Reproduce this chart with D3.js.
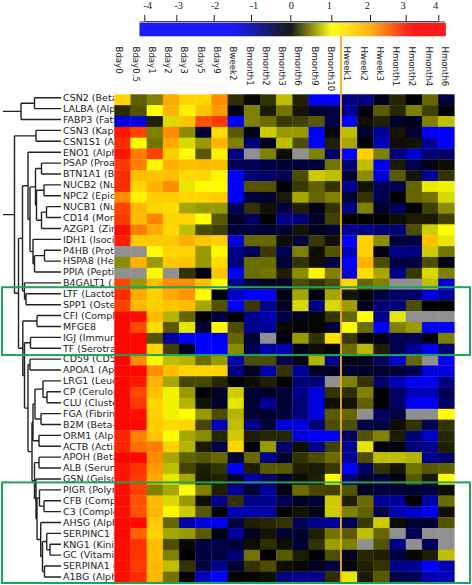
<!DOCTYPE html>
<html><head><meta charset="utf-8">
<script src="https://cdn.jsdelivr.net/npm/d3@7"></script>
<style>html,body{margin:0;padding:0;background:#fff}svg{display:block}</style>
</head><body><svg id="c" width="472" height="585"></svg>
<script>
const timepoints = ["Bday0","Bday0.5","Bday1","Bday2","Bday3","Bday5","Bday9","Bweek2","Bmonth1","Bmonth2","Bmonth3","Bmonth6","Bmonth9","Bmonth10","Hweek1","Hweek2","Hweek3","Hmonth1","Hmonth2","Hmonth4","Hmonth6"];
const proteins = ["CSN2 (Beta","LALBA (Alph","FABP3 (Fatt","CSN3 (Kapp","CSN1S1 (Al","ENO1 (Alph","PSAP (Proa","BTN1A1 (Bu","NUCB2 (Nu","NPC2 (Epidi","NUCB1 (Nu","CD14 (Mon","AZGP1 (Zin","IDH1 (Isoci","P4HB (Prot","HSPA8 (He","PPIA (Peptic","B4GALT1 (","LTF (Lactot","SPP1 (Oste","CFI (Comple","MFGE8","IGJ (Immun","TF (Serotra","CD59 (CD5","APOA1 (Apo","LRG1 (Leuc","CP (Cerulop","CLU (Cluste","FGA (Fibrin","B2M (Beta-","ORM1 (Alph","ACTB (Actin","APOH (Beta","ALB (Serum","GSN (Gelso","PIGR (Polyr","CFB (Compl","C3 (Comple","AHSG (Alph","SERPINC1 (","KNG1 (Kinin","GC (Vitamin","SERPINA1 (","A1BG (Alph"];
const expression = [
[1.5,.37,.5,2,1.5,1.5,2.2,.18,.03,.2,.75,.13,-1.5,-1.5,-.75,-.75,-.2,.15,0,.4,-.4],
[.17,.33,1,1.9,1.15,1.7,2.1,-.12,.5,.1,.45,.08,-.3,-.4,-.9,-.1,.35,.15,.5,.25,0],
[-1.3,-1.3,.12,.85,1.7,2.6,2.75,-1.5,.5,.42,.22,.25,.35,-.45,-1.5,.06,.13,-.25,-.15,.5,.75],
[3,2.7,.5,2.2,.55,-.3,1.4,.35,-.15,.8,.6,.6,-1.5,.03,.75,-.3,-.9,.08,-.3,-1.5,-1.5],
[2.85,1.05,.45,2,.85,.6,1.9,.5,-.7,-.15,.75,.3,-1.5,.12,.65,0,-1.1,.05,.07,-.9,-1.5],
[3,2.3,2.7,1.6,1.05,.35,1.15,-.75,null,.5,.05,null,.5,-.6,-1.5,1.55,.5,-.7,-1.2,-.7,-.6],
[2.75,2.3,1.1,1.9,1.75,1.8,1.75,-.5,-.5,-.4,-.3,-.35,-.35,.45,-.7,.75,-1.4,.1,-.45,-.1,.05],
[2.85,1.75,1.7,1.75,1.45,1.5,1.1,-1.5,-.7,-.6,-.5,.3,.8,.75,-.3,.55,-1.3,.35,.08,-.9,.2],
[2.85,1.5,1.9,2.2,.9,1.05,1.05,-1.5,.33,.33,0,.22,.38,.2,-.85,.07,-.5,-.45,.4,.92,.95],
[2.2,1.15,1.6,1.6,1.5,1.5,1.6,-1.5,-.35,-.3,.1,.65,.4,.5,-.3,.2,-.5,0,.4,.45,.85],
[2.7,1.85,1.5,1.4,.65,.6,.6,-.5,.2,.07,-.35,.12,-.15,.2,-.8,.5,-.25,-.55,0,.25,.55],
[2.75,1.8,2.25,1.5,1.5,1,.35,-.2,-.55,-.02,-.8,-.7,-.25,.25,0,0,0,.05,.1,.1,.25],
[3.1,2.3,2,1.45,.75,.3,.25,-.35,-.35,-.3,-.3,.08,-.15,-.3,-.8,-.8,-.7,-.7,.3,.8,1.02],
[2.95,1.6,1.65,1.65,1.95,1.7,1.55,-1.3,.4,.4,.05,-.35,.22,.07,-1.5,1.55,.55,-.35,-.4,1.75,.9],
[null,null,1.05,1.5,1.5,.6,1.1,-.8,-.5,.22,-.5,.5,.06,.33,-1.1,1.55,-.1,-.8,-.75,.8,.45],
[.55,1.9,.6,1.65,1.7,.6,1.4,-.75,.42,.42,-.3,.2,.05,-.4,-1.5,1.9,.3,-.4,-.4,.3,-.1],
[null,null,1.1,null,.2,-.1,1.7,-1.5,.42,.45,.12,.55,1.1,.5,-1.3,1.4,.65,-.8,.22,.85,.5],
[2.7,.6,1.8,2.2,2.2,1.75,1.05,-.8,-.4,-.2,-.25,.3,.2,.3,1.5,.4,.5,null,null,.75,-1.3],
[2.85,2,1.55,2,2.15,1.05,0,-1.2,-1.5,-1.5,-.1,.65,-.1,.65,.08,-.05,-.4,-.6,-.6,-1.3,-.9],
[2.7,1.8,1.55,1.7,1.8,.65,.33,-1.5,.22,-.85,-.15,.85,-.8,.85,.62,-.15,-.7,-.7,.3,0,-.02],
[3.2,3.1,1.85,.7,.4,-.05,-.35,-.03,-.85,-1,-.4,-.15,.02,.2,.4,1.05,-.8,.9,null,null,null],
[3.2,2.65,1.4,.35,.9,-.3,1.05,.3,-.85,-.85,.03,.02,.02,-.3,1.05,.42,-1.5,.5,.6,-1.5,-1.5],
[3.2,3.2,.33,-.9,-1.5,-1.5,-1.4,.4,-.3,null,-.1,.6,.2,1.35,.22,-.03,-.15,-.5,-.5,-.1,.5],
[3.2,3.2,1.5,.25,-.15,-1.5,-1.5,.55,-.5,-1,-1,-.15,.05,.02,.42,.72,.12,-.5,-.9,-1.4,-.7],
[3.2,2.2,1.1,.75,.7,.42,.6,-1,.3,.3,-.4,-.05,.7,-.8,-.1,-.15,-.5,-1.2,.4,null,-1.5],
[3.2,3.2,2.2,1.8,1.5,1.5,1.5,-.75,-.2,-1,.2,-.9,-.2,-.2,-.3,-.2,-.3,-.3,-.5,-1.3,-1.3],
[3.2,3,1.9,.65,.28,.28,.15,0,.05,.12,0,-.7,-.7,null,.5,.2,-.6,-1.1,-1.4,-1.4,-.8],
[3.2,2.65,1.75,.95,.6,0,-.2,.8,-.3,-.25,-.3,-.8,-1.3,.2,.18,.5,-.05,-.6,-1.1,-1.1,-.5],
[3.2,2.75,1.5,.95,.7,.07,-.25,.9,-.3,-.85,-.3,-.7,-1.3,.06,.07,.38,0,-.6,-1.5,-1.5,-.6],
[3.2,3.1,1.55,.95,1.05,.6,.3,.7,-.3,-.3,-.35,-.7,-1.3,.35,.4,null,-.6,-.35,null,null,1.05],
[3.2,3.2,1.6,1.45,1.5,.28,-1.1,.75,-.8,-.35,-1.3,-1.3,-.7,.3,.3,-.4,-.4,.05,.2,-.5,.2],
[2.9,2.25,1.7,1.05,.65,.55,.15,.8,.12,.15,.15,-1.3,-1.5,-1.5,-.6,.33,.5,.1,-.7,-1.2,.15],
[2.9,2.4,2.3,1.55,.7,.1,-.4,1.5,0,.6,-.6,.05,-.8,.25,-.9,.9,-.05,-.1,-.7,-.8,.12],
[3.2,3.2,2.2,.65,.38,.33,.4,-.3,.4,-.8,-.3,.2,.3,.42,-.9,.3,.75,.75,.7,-.8,-.6],
[3,2.8,2.1,.75,.27,.12,.2,-1.5,.12,.35,.35,.12,.1,.22,-1.5,-.6,.2,.08,.45,.35,.38],
[3,2.75,2,.9,.65,.1,.13,-.3,-1,-.6,-.25,.05,.12,1.05,-.7,-.3,-.35,-.08,.35,.1,1.05],
[3.1,2.7,.5,.65,1.05,.5,.12,-.9,-.3,-.9,-.1,.42,.28,.25,.33,-.25,-.35,-.35,-.3,-.35,.05],
[3.1,2.6,1.8,.85,.6,.05,-.8,.2,-.8,-.8,-.5,-.2,-.3,.8,.12,.42,-.9,-.9,-.02,-1,.42],
[3.1,2.6,1.85,1.1,.8,.35,-.02,-1.1,-1,-1,0,.08,-.1,.8,.5,.38,-.4,-1.1,-1.2,-1.5,.06],
[3.2,3.2,1.65,.4,-1,-1.3,-1.4,-.4,.12,.15,.2,-.5,-.8,-.9,-.5,.22,.8,.05,-.3,-.3,.33],
[3.2,2.5,1.55,.65,.6,.35,-.1,-.9,-.2,.08,-.3,-.3,.12,.45,.35,.75,.4,null,-.5,null,null],
[3.1,2.8,1.75,.3,.03,-.4,-.45,-.3,.05,.18,.05,-.3,.2,.62,.5,null,.33,-.8,null,-.5,null],
[3.1,2.8,1.75,.5,-.05,-.4,-.4,-.7,.45,0,.35,.1,-.03,.3,-.15,.15,.12,-.4,.03,.12,.75],
[3.1,2.75,1.85,.75,.2,-.4,-.8,-.3,.2,.3,.05,.03,-.2,-.4,.02,.12,.2,-.8,-.9,-1.5,-1.1],
[3.1,2.85,1.85,.45,-.03,-1.1,-1.5,-.02,.02,.05,-.7,-.8,-.8,.18,.9,.1,.35,-.4,-.5,-1,-1.1]
];
const colorTicks = [-4,-3,-2,-1,0,1,2,3,4];
// dendrograms: [merge height, childA, childB]; integers are indices into proteins
const treeTop = [40,[26.5,0,1],2];
const treeMain = [46.5,[25,3,4],[42.5,
  [38.5,
    [33,5,[31,
      [25.5,[19.5,6,7],[24.5,[17,8,9],[19.5,[14.5,10,11],12]]],
      [28,13,[26.5,[16.5,14,15],16]]]],
    [36.5,17,[35,18,19]]],
  [38.2,[24,20,21],[36.5,[30.5,22,23],[33,[31,24,25],
    [29,
      [28,[26,[18,26,[14,27,28]],[20,29,30]],[22,31,32]],
      [26.5,[22,33,34],[25,35,[24,[21.5,36,[17,37,38]],[20.3,39,[18.5,[14.3,40,[11,41,42]],[16.5,43,44]]]]]]]]]]]];
const boxedRows = [[18,23],[36,44]];
const splitAfter = "Bmonth10";

const svg = d3.select("#c");
const x = d3.scaleBand().domain(timepoints).range([114.3,454.3]);
const y = d3.scaleBand().domain(d3.range(proteins.length)).range([94.3,582.3]);
const labelY = d3.scaleBand().domain(d3.range(proteins.length)).range([92.3,582.4]);
const columnLabelX = d3.scalePoint().domain(timepoints).range([119.3,445]);
const color = d3.scaleLinear()
  .domain([-1.5,0,1,2,3,3.3])
  .range(["#0000ff","#000000","#ffff00","#ffaa00","#ff1500","#ff0000"]).clamp(true);
const tickX = d3.scaleLinear().domain(colorTicks).range([144.3,176.3,213.7,251,290.3,331.3,370,405.7,438.3]);
const tickLabelX = d3.scaleLinear().domain(colorTicks).range([147.7,178.7,215,254,291.3,329.3,367.3,403,435.7]);
const height = d3.scaleLinear().domain([0,58]).range([61,3]);

// colour bar
const barPx = d3.range(139.5,445,1);
svg.append("g").selectAll("rect").data(barPx).join("rect")
  .attr("x",d=>d).attr("y",23).attr("width",1.3).attr("height",13.2)
  .attr("fill",d=>color(tickX.invert(d)));
svg.append("rect").attr("x",139.5).attr("y",21).attr("width",305.5).attr("height",1.8).attr("fill","#8d8d9a");
const axis = d3.axisTop(tickX).tickValues(colorTicks).tickSize(6).tickSizeOuter(0).tickFormat("");
svg.append("g").attr("transform","translate(0,21)").call(axis)
  .call(g=>g.select(".domain").attr("stroke","#444"))
  .call(g=>g.selectAll(".tick line").attr("stroke","#222"));
svg.append("g").selectAll("text").data(colorTicks).join("text")
  .attr("x",d=>tickLabelX(d)).attr("y",8.5).attr("text-anchor","middle")
  .attr("font-family","Liberation Serif").attr("font-size",10.5).attr("fill","#222")
  .text(d=>d);

// column labels
svg.append("g").selectAll("text").data(timepoints).join("text")
  .attr("transform",d=>`translate(${columnLabelX(d)},46.5) rotate(90)`)
  .attr("dy","0.35em")
  .attr("font-family","DejaVu Sans").attr("font-size",8.6).attr("fill","#222")
  .text(d=>d);

// dendrograms
const pathGen = d3.path();
function drawTree(data){
  const root = d3.hierarchy(data,d=>Array.isArray(d)?d.slice(1):null);
  root.eachAfter(n=>{
    if(n.children){ n.py=d3.mean(n.children,c=>c.py); n.px=height(n.data[0]); }
    else { n.py=labelY(n.data)+labelY.bandwidth()/2; n.px=height(0); }
  });
  root.each(n=>{
    if(n.children){
      pathGen.moveTo(n.px,n.children[0].py); pathGen.lineTo(n.px,n.children[1].py);
      n.children.forEach(c=>{pathGen.moveTo(n.px,c.py); pathGen.lineTo(c.px,c.py);});
    }
  });
  pathGen.moveTo(height(58),root.py); pathGen.lineTo(root.px,root.py);
}
drawTree(treeTop); drawTree(treeMain);
svg.append("path").attr("d",pathGen.toString()).attr("fill","none").attr("stroke","#222").attr("stroke-width",1.4);

// row labels
svg.append("defs").append("clipPath").attr("id","lab").append("rect")
  .attr("x",0).attr("y",85).attr("width",x.range()[0]).attr("height",500);
svg.append("g").attr("clip-path","url(#lab)").selectAll("text").data(proteins).join("text")
  .attr("x",63).attr("y",(d,i)=>labelY(i)+labelY.bandwidth()/2).attr("dy","0.35em")
  .attr("font-family","DejaVu Sans").attr("font-size",9.5).attr("fill","#222")
  .text(d=>d);

// heat map
svg.append("g").selectAll("g").data(expression).join("g").each(function(row,i){
  d3.select(this).selectAll("rect").data(row).join("rect")
    .attr("x",(d,j)=>x(timepoints[j])).attr("y",y(i))
    .attr("width",x.bandwidth()+.3).attr("height",y.bandwidth()+.3)
    .attr("fill",d=>d===null?"#909090":color(d));
});

// split line
svg.append("line")
  .attr("x1",x(splitAfter)+x.bandwidth()).attr("x2",x(splitAfter)+x.bandwidth())
  .attr("y1",36).attr("y2",y.range()[1]).attr("stroke","#f2b01e").attr("stroke-width",1.8);

// highlight boxes
svg.append("g").selectAll("rect").data(boxedRows).join("rect")
  .attr("x",2).attr("width",468)
  .attr("y",d=>y(d[0])-2.3).attr("height",d=>y(d[1])+y.bandwidth()-y(d[0])+ (d[0]===18?2.8:3))
  .attr("fill","none").attr("stroke","#1fa35c").attr("stroke-width",2);
</script></body></html>
